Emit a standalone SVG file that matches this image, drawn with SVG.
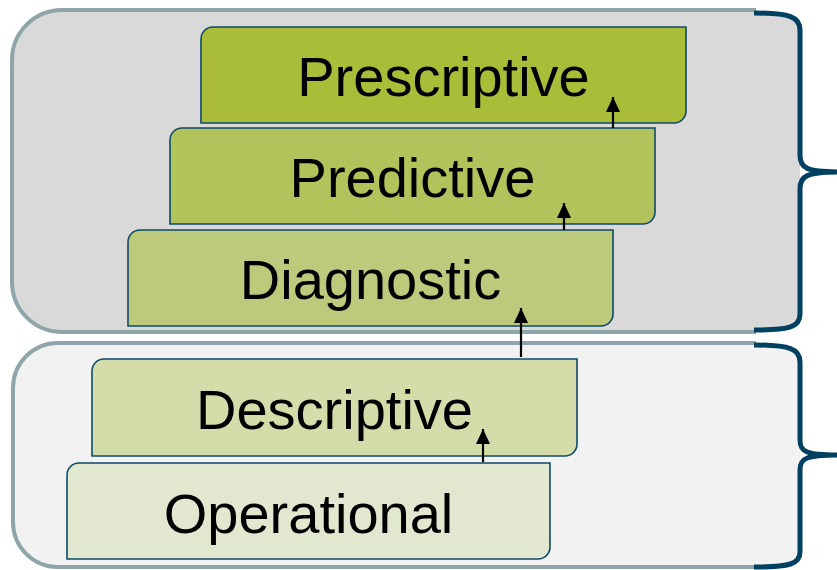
<svg xmlns="http://www.w3.org/2000/svg" width="837" height="570" viewBox="0 0 837 570">
<style>
.frame{stroke:#8ea6a9;stroke-width:4;fill:none}
.brace{stroke:#004060;stroke-width:5;fill:none;stroke-linecap:butt}
.box{stroke:#0d4a68;stroke-width:1.6}
.lbl{font-family:"Liberation Sans",Arial,sans-serif;font-size:56px;fill:#000;text-anchor:middle}
.arr{stroke:#000;stroke-width:2.2;fill:none;marker-end:url(#ah)}
</style>
<defs>
<marker id="ah" viewBox="0 0 16 14" refX="15" refY="7" markerWidth="16" markerHeight="15" markerUnits="userSpaceOnUse" orient="auto">
<path d="M0,0 L15,7 L0,14 Z" fill="#000"/>
</marker>
</defs>
<rect width="837" height="570" fill="#fff"/>
<g id="tier-advanced">
<path d="M754 10 H62 A50 50 0 0 0 12 60 V282 A50 50 0 0 0 62 332 H754 C790 332 800 328 800 314 V30 C800 16 790 12 754 12 Z" fill="#d9d9d9"/>
<path class="frame" d="M756 10 H62 A50 50 0 0 0 12 60 V282 A50 50 0 0 0 62 332 H756"/>
<path class="brace" d="M754 13 C790 13 800 17 800 30 V155 C800 168 806 172 840 172 C806 172 800 176 800 189 V314 C800 327 790 330 754 330"/>
</g>
<g id="tier-basic">
<path d="M754 343 H58 A45 45 0 0 0 13 388 V522 A45 45 0 0 0 58 567 H754 C790 567 800 564 800 552 V360 C800 348 790 345 754 345 Z" fill="#f2f2f2"/>
<path class="frame" d="M756 343 H58 A45 45 0 0 0 13 388 V522 A45 45 0 0 0 58 567 H756"/>
<path class="brace" d="M754 345 C790 345 800 349 800 362 V440 C800 452 806 455 840 455 C806 455 800 458 800 470 V552 C800 564 790 567 754 567"/>
</g>
<g id="prescriptive">
<path class="box" fill="#a9bd38" d="M213 27 H686 V111 A12 12 0 0 1 674 123 H201 V39 A12 12 0 0 1 213 27 Z"/>
<text class="lbl" x="443.5" y="96">Prescriptive</text>
</g>
<g id="predictive">
<path class="box" fill="#b1c35a" d="M182 128 H655 V212 A12 12 0 0 1 643 224 H170 V140 A12 12 0 0 1 182 128 Z"/>
<text class="lbl" x="412.5" y="197">Predictive</text>
</g>
<g id="diagnostic">
<path class="box" fill="#bdc97b" d="M140 230 H613 V314 A12 12 0 0 1 601 326 H128 V242 A12 12 0 0 1 140 230 Z"/>
<text class="lbl" x="370.5" y="299">Diagnostic</text>
</g>
<g id="descriptive">
<path class="box" fill="#d4dda9" d="M104 359 H577 V444 A12 12 0 0 1 565 456 H92 V371 A12 12 0 0 1 104 359 Z"/>
<text class="lbl" x="334.5" y="429">Descriptive</text>
</g>
<g id="operational">
<path class="box" fill="#e2e7cf" d="M79 463 H550 V547 A12 12 0 0 1 538 559 H67 V475 A12 12 0 0 1 79 463 Z"/>
<text class="lbl" x="308.5" y="533">Operational</text>
</g>
<g id="connectors">
<line class="arr" x1="483" y1="462" x2="483" y2="429"/>
<line class="arr" x1="521" y1="357" x2="521" y2="308"/>
<line class="arr" x1="564" y1="230" x2="564" y2="203"/>
<line class="arr" x1="613" y1="128" x2="613" y2="97"/>
</g>
</svg>
